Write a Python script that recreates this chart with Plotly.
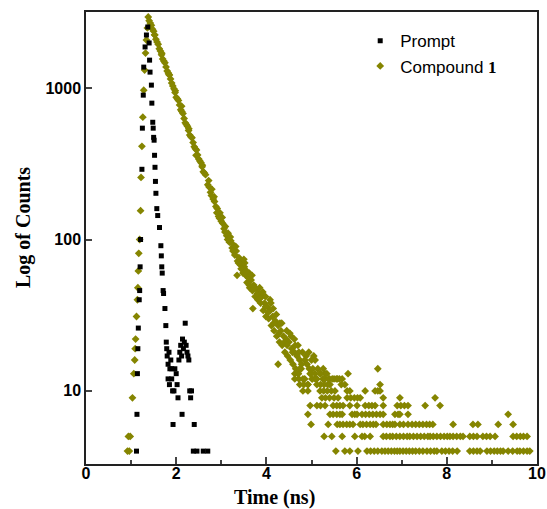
import plotly.graph_objects as go

# --- Prompt (instrument response), time in ns / counts ---
prompt_t = [1.12, 1.13, 1.14, 1.15, 1.16, 1.18, 1.19, 1.20, 1.21, 1.24, 1.25, 1.27, 1.28, 1.31, 1.34, 1.37,
            1.40, 1.41, 1.42, 1.45, 1.46, 1.48, 1.49, 1.50, 1.51, 1.52, 1.53, 1.54, 1.55, 1.57, 1.59,
            1.63, 1.66, 1.67, 1.68, 1.69, 1.71, 1.72, 1.75, 1.77,
            1.78, 1.79, 1.80, 1.82, 1.84, 1.86, 1.88, 1.90, 1.82, 1.85, 1.90, 1.92, 1.95, 1.97, 2.00,
            2.02, 2.04, 2.06, 2.08, 2.10, 2.12, 2.14, 2.16, 2.18, 2.20, 2.22, 2.24, 2.26, 2.28, 2.30,
            2.32, 2.34, 2.13, 1.93, 2.40, 2.38, 2.46, 2.60, 2.70]
prompt_n = [4, 7, 13, 19, 26, 40, 46, 66, 100, 291, 544, 899, 1377, 1871, 2244, 2535,
            1988, 1531, 1276, 1047, 796, 595, 544, 473, 453, 360, 300, 242, 202, 160, 144,
            120, 91, 78, 66, 60, 46, 44, 35, 27,
            21, 19, 17, 15, 18, 14, 16, 14, 12, 11, 12, 10, 10, 14, 13,
            11, 9, 16, 18, 20, 17, 22, 19, 21, 28, 20, 18, 17, 16, 10,
            9, 10, 7, 6, 6, 4, 4, 4, 4]

# --- Compound 1: rising edge ---
rise_t = [0.92, 0.96, 0.94, 0.98, 1.03, 1.06, 1.08, 1.09, 1.10, 1.12, 1.14, 1.15, 1.16, 1.17, 1.19,
          1.21, 1.22, 1.24, 1.26, 1.28, 1.30, 1.32, 1.34, 1.36, 1.38]
rise_n = [4, 4, 5, 5, 9, 13, 16, 19, 22, 31, 40, 48, 62, 81, 100,
          155, 257, 413, 643, 970, 1316, 1706, 2080, 2500, 2950]

# --- Compound 1: decay ---
decay_t = [1.400, 1.425, 1.450, 1.475, 1.500, 1.525, 1.550, 1.575, 1.600, 1.625, 1.650, 1.675, 1.700,
           1.725, 1.750, 1.775, 1.800, 1.825, 1.850, 1.875, 1.900, 1.925, 1.950, 1.975, 2.000, 2.025,
           2.050, 2.075, 2.100, 2.125, 2.150, 2.175, 2.200, 2.225, 2.250, 2.275, 2.300, 2.325, 2.350,
           2.375, 2.400, 2.425, 2.450, 2.475, 2.500, 2.525, 2.550, 2.575, 2.600, 2.625, 2.650,
           2.70, 2.73, 2.76, 2.79, 2.82, 2.85, 2.88, 2.91, 2.94, 2.97, 3.00, 3.03, 3.06, 3.09, 3.12,
           3.15, 3.18, 3.21, 3.24, 3.27, 3.30, 3.33, 3.36, 3.39, 3.42, 3.45, 3.48, 3.51, 3.54, 3.57,
           3.60, 3.63, 3.66, 3.69, 3.72, 3.75, 3.78, 3.81, 3.84, 3.87, 3.90, 3.93, 3.96, 3.99, 4.02,
           4.05, 4.08, 4.11, 4.14, 4.17, 4.20, 4.23, 4.26, 4.29, 4.32, 4.35, 4.38, 4.41, 4.44, 4.47,
           4.50, 4.53, 4.56, 4.59, 4.62, 4.65, 4.68, 4.71, 4.74, 4.77]
decay_n = [2790, 2690, 2600, 2450, 2380, 2240, 2100, 2020, 1950, 1820, 1760, 1660, 1560,
           1510, 1470, 1380, 1300, 1260, 1220, 1150, 1080, 1035, 990, 935, 870, 850,
           830, 775, 720, 700, 680, 630, 590, 575, 560, 525, 490, 478, 470,
           437, 410, 398, 390, 362, 340, 330, 322, 302, 280, 275, 268,
           230, 222, 205, 215, 185, 178, 165, 160, 142, 150, 132, 128, 118, 122, 106,
           110, 96, 98, 88, 92, 79, 84, 72, 76, 68, 72, 60, 66, 58, 52,
           56, 48, 54, 46, 50, 42, 47, 40, 44, 38, 42, 34, 38, 31, 36,
           30, 34, 27, 31, 25, 29, 23, 27, 21, 25, 20, 23, 18, 22, 17,
           21, 16, 19, 15, 18, 14, 17, 13, 16, 14]

# --- Compound 1: scatter around the band ---
extra_t = [3.35, 3.70, 4.26, 4.08, 3.52, 3.62, 3.85, 3.98, 4.15, 4.30, 4.45, 4.55, 4.62, 4.70, 4.80,
           4.85, 4.90, 4.95, 5.00, 5.05, 5.08, 5.14, 5.20, 4.85, 4.92, 4.98, 5.02, 5.10, 5.25, 5.30,
           5.40, 5.50, 5.58, 5.66,
           2.72, 2.78, 2.84, 2.90, 2.96, 3.02, 3.08, 3.14, 3.20, 3.26, 3.32, 3.38, 3.44, 3.50, 3.56,
           3.62, 3.68, 3.74, 3.80, 3.86, 3.92, 3.98, 4.04, 4.10, 4.16, 4.22, 4.28, 4.34, 4.40, 4.46,
           4.52, 4.58, 4.64, 4.72, 4.78, 4.88, 4.94,
           1.52, 1.68, 1.84, 1.98, 2.12, 2.28, 2.44, 2.58]
extra_n = [58, 35, 15, 40, 70, 60, 48, 42, 35, 28, 25, 23, 22, 20, 18,
           16, 15, 14, 16, 17, 16, 14, 13, 12, 11, 13, 12, 12, 12, 13,
           12, 12, 12, 11,
           245, 195, 192, 150, 138, 140, 112, 100, 104, 84, 90, 70, 64, 74, 62,
           50, 58, 48, 44, 41, 45, 36, 33, 38, 28, 32, 24, 28, 21, 20,
           24, 18, 20, 18, 15, 17, 18,
           2250, 1700, 1230, 960, 760, 540, 360, 310]

# --- Compound 1: tail (integer count levels) ---
tail_t = [4.63, 4.70, 4.74, 4.97, 5.03, 5.08, 5.19, 5.26, 5.34, 5.81, 6.47,
          4.63, 4.72, 4.81, 5.01, 5.08, 5.12, 5.30, 5.38, 5.46, 5.55, 5.62, 5.68,
          4.74, 4.83, 4.92, 5.12, 5.20, 5.28, 5.36, 5.41, 5.74, 6.52,
          4.81, 4.92, 5.19, 5.27, 5.35, 5.44, 5.52, 5.79, 5.85, 6.19, 6.41, 6.47, 6.52,
          5.23, 5.31, 5.40, 5.50, 5.59, 5.79, 5.87, 5.95, 6.02, 6.08, 6.59, 6.96, 7.74,
          4.97, 5.12, 5.20, 5.30, 5.48, 5.56, 5.63, 5.70, 5.85, 6.01, 6.19, 6.27, 6.34, 6.41, 6.59,
          6.90, 6.98, 7.06, 7.14, 7.52, 7.85,
          4.92, 5.41, 5.48, 5.56, 5.63, 5.68, 5.90, 5.96, 6.01, 6.12, 6.20, 6.28, 6.36, 6.44, 6.52,
          6.59, 6.85, 6.92, 6.96, 7.14, 9.36,
          4.99, 5.37, 5.57, 5.63, 5.70, 5.78, 5.85, 5.92, 6.08, 6.14, 6.22, 6.30, 6.37, 6.43, 6.59,
          6.67, 6.74, 6.80, 6.85, 6.96, 7.04, 7.14, 7.23, 7.31, 7.39, 7.47, 7.55, 7.62, 7.69, 8.14,
          8.58, 8.69, 9.14, 9.47,
          5.28, 5.45, 5.68, 5.96, 6.12, 6.18, 6.30, 6.59, 6.66, 6.74, 6.80, 6.88, 6.96, 7.04, 7.12,
          7.18, 7.26, 7.34, 7.42, 7.50, 7.58, 7.63, 7.70, 7.78, 7.86, 7.94, 8.01, 8.07, 8.14, 8.22,
          8.30, 8.36, 8.51, 8.59, 8.67, 8.80, 8.88, 8.96, 9.07, 9.47, 9.55, 9.63, 9.70, 9.78,
          5.54, 5.74, 5.85, 6.03, 6.23, 6.31, 6.39, 6.47, 6.56, 6.63, 6.70, 6.77, 6.84, 6.90, 6.96,
          7.03, 7.10, 7.17, 7.24, 7.31, 7.39, 7.47, 7.56, 7.64, 7.72, 7.78, 7.89, 7.97, 8.05, 8.13,
          8.23, 8.51, 8.59, 8.67, 8.74, 8.89, 8.97, 9.05, 9.12, 9.19, 9.25, 9.36, 9.46, 9.56, 9.62,
          9.70, 9.78, 9.84]
tail_n = [13, 13, 14, 13, 14, 13, 13, 14, 13, 13, 14,
          12, 12, 12, 12, 12, 12, 12, 12, 12, 12, 12, 12,
          11, 11, 11, 11, 11, 11, 11, 11, 11, 11,
          10, 10, 10, 10, 10, 10, 10, 10, 10, 10, 10, 10, 10,
          9, 9, 9, 9, 9, 9, 9, 9, 9, 9, 9, 9, 9,
          8, 8, 8, 8, 8, 8, 8, 8, 8, 8, 8, 8, 8, 8, 8,
          8, 8, 8, 8, 8, 8,
          7, 7, 7, 7, 7, 7, 7, 7, 7, 7, 7, 7, 7, 7, 7,
          7, 7, 7, 7, 7, 7,
          6, 6, 6, 6, 6, 6, 6, 6, 6, 6, 6, 6, 6, 6, 6,
          6, 6, 6, 6, 6, 6, 6, 6, 6, 6, 6, 6, 6, 6, 6,
          6, 6, 6, 6,
          5, 5, 5, 5, 5, 5, 5, 5, 5, 5, 5, 5, 5, 5, 5,
          5, 5, 5, 5, 5, 5, 5, 5, 5, 5, 5, 5, 5, 5, 5,
          5, 5, 5, 5, 5, 5, 5, 5, 5, 5, 5, 5, 5, 5,
          4, 4, 4, 4, 4, 4, 4, 4, 4, 4, 4, 4, 4, 4, 4,
          4, 4, 4, 4, 4, 4, 4, 4, 4, 4, 4, 4, 4, 4, 4,
          4, 4, 4, 4, 4, 4, 4, 4, 4, 4, 4, 4, 4, 4, 4,
          4, 4, 4]

y_ticks = [10, 100, 1000]
x_ticks = [0, 2, 4, 6, 8, 10]

compound_t = rise_t + decay_t + extra_t + tail_t
compound_n = rise_n + decay_n + extra_n + tail_n

OLIVE = "#858500"

fig = go.Figure()
fig.add_trace(go.Scatter(
    x=compound_t, y=compound_n, mode="markers",
    name="Compound <span style=\"font-family:'Liberation Serif';font-weight:bold\">1</span>",
    marker=dict(symbol="diamond", size=6, color=OLIVE),
))
fig.add_trace(go.Scatter(
    x=prompt_t, y=prompt_n, mode="markers", name="Prompt",
    marker=dict(symbol="square", size=5, color="black"),
))

fig.update_layout(
    width=547, height=509,
    margin=dict(l=86, r=10, t=12, b=45),
    paper_bgcolor="white", plot_bgcolor="white",
    font=dict(family="Liberation Sans", color="black"),
    legend=dict(x=0.608, y=0.975, xanchor="left", yanchor="top", traceorder="reversed",
                font=dict(size=17, family="Liberation Sans"), bgcolor="rgba(0,0,0,0)"),
    xaxis=dict(range=[0, 10], tickvals=x_ticks, ticks="inside", ticklen=7, tickwidth=1.5,
               minor=dict(dtick=1, ticks="inside", ticklen=4, tickwidth=1.5),
               showline=True, linewidth=1.5, linecolor="#222", mirror=True, showgrid=False,
               zeroline=False, automargin=False, ticklabelstandoff=-6,
               tickfont=dict(size=16, weight="bold")),
    yaxis=dict(type="log", range=[0.517, 3.503], tickvals=y_ticks, ticktext=[str(v) for v in y_ticks],
               ticks="inside", ticklen=6, tickwidth=1.5,
               showline=True, linewidth=1.5, linecolor="#222", mirror=True, showgrid=False,
               zeroline=False, automargin=False, tickfont=dict(size=16, weight="bold")),
    annotations=[
        dict(text="<b>Time (ns)</b>", x=0.419, y=-0.075, xref="paper", yref="paper",
             xanchor="center", yanchor="middle", showarrow=False,
             font=dict(family="Liberation Serif", size=20)),
        dict(text="<b>Log of Counts</b>", x=-0.14, y=0.524, xref="paper", yref="paper",
             xanchor="center", yanchor="middle", showarrow=False, textangle=-90,
             font=dict(family="Liberation Serif", size=20)),
    ],
)

fig.write_html("out.html", config={"displayModeBar": False},
               post_script="document.body.style.margin='0';")
